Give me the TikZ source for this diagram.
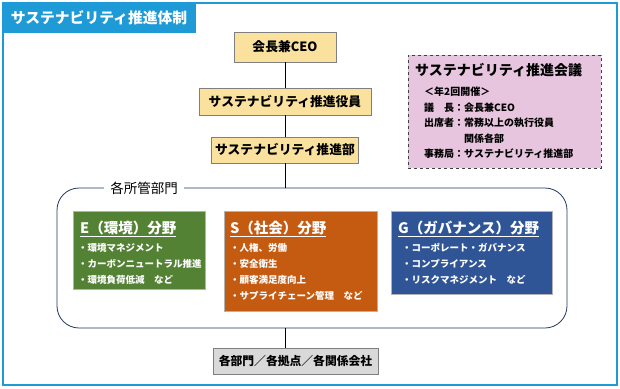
\documentclass[tikz,border=0pt]{standalone}
\usepackage{fontspec}
\setmainfont{Noto Sans CJK JP}
\usepackage{xcolor}
\usetikzlibrary{
  positioning,
  shadows
}
\definecolor{stFrame}{HTML}{1E9AD6}
\definecolor{stHead}{HTML}{FAE29E}
\definecolor{stEdge}{HTML}{7F7F7F}
\definecolor{stMeet}{HTML}{E7C5DF}
\definecolor{stGroup}{HTML}{1F3864}
\definecolor{stEnv}{HTML}{548235}
\definecolor{stSoc}{HTML}{C55A11}
\definecolor{stGov}{HTML}{2F5597}
\definecolor{stBase}{HTML}{D9D9D9}
\tikzset{
  stnode/.style={
    draw=stEdge, inner sep=0pt, align=center
  },
  titletab/.style={fill=stFrame, text=white, inner sep=0pt, minimum width=194, minimum height=31,
    font=\fontsize{14.8}{17}\selectfont\bfseries},
  headbox/.style={stnode, fill=stHead, font=\fontsize{12.8}{15}\selectfont\bfseries},
  meeting/.style={draw=black!75, dashed, line width=0.9pt, fill=stMeet, inner sep=0pt},
  meettitle/.style={inner sep=0pt, font=\fontsize{14}{16}\selectfont\bfseries},
  meetitem/.style={inner sep=0pt, align=left, font=\fontsize{10}{15.5}\selectfont\bfseries},
  groupbox/.style={draw=stGroup, line width=0.8pt, rounded corners=22pt, inner sep=0pt},
  grouplabel/.style={fill=white, inner xsep=6pt, inner ysep=1pt, font=\fontsize{13.5}{15}\selectfont},
  field/.style={draw=white!70!black, line width=0.4pt, inner sep=0pt, anchor=north west},
  fieldtitle/.style={inner sep=0pt, text=white, font=\fontsize{14.5}{16}\selectfont\bfseries},
  fielditem/.style={inner sep=0pt, align=left, text=white, font=\fontsize{9.5}{16}\selectfont\bfseries},
  basebox/.style={stnode, fill=stBase, font=\fontsize{11.8}{14}\selectfont\bfseries,
    drop shadow={shadow xshift=1pt, shadow yshift=-1pt, opacity=0.35}},
  link/.style={line width=0.9pt, black}
}

\begin{document}
\begin{tikzpicture}[x=1pt, y=-1pt, node distance=3mm]
  \useasboundingbox (0,0) rectangle (620,388);
  \draw[stFrame, line width=2pt] (3,3) rectangle (617,385);
  \node[titletab] (tab) at (99,17.5) {サステナビリティ推進体制};

  % chain of command
  \node[headbox, minimum width=102, minimum height=30] (ceo) at (285,47) {会長兼CEO};
  \node[headbox, minimum width=172, minimum height=27] (officer) at (285,101.5) {サステナビリティ推進役員};
  \node[headbox, minimum width=147, minimum height=26] (dept) at (285,150) {サステナビリティ推進部};

  % council
  \node[meeting, minimum width=193, minimum height=113, anchor=north west] (council) at (408,55) {};
  \node[meettitle, below right=8pt and 7pt of council.north west] (counciltitle) {サステナビリティ推進会議};
  \node[meetitem, below right=32pt and 16pt of council.north west] (councilbody)
    {＜年2回開催＞\\議　長：会長兼CEO\\出席者：常務以上の執行役員\\\phantom{出席者：}関係各部\\事務局：サステナビリティ推進部};

  % divisions
  \node[groupbox, minimum width=510, minimum height=140] (group) at (312,258) {};
  \node[grouplabel] (grouptag) at (144,188) {各所管部門};

  \node[field, fill=stEnv, minimum width=132, minimum height=78] (env) at (73,211) {};
  \node[fieldtitle, below right=10pt and 7pt of env.north west] (envtitle) {\underline{E（環境）分野}};
  \node[fielditem, below right=32pt and 5pt of env.north west] (envitems)
    {・環境マネジメント\\・カーボンニュートラル推進\\・環境負荷低減　など};

  \node[field, fill=stSoc, minimum width=153, minimum height=100] (soc) at (224,211) {};
  \node[fieldtitle, below right=10pt and 6pt of soc.north west] (soctitle) {\underline{S（社会）分野}};
  \node[fielditem, below right=32pt and 6pt of soc.north west] (socitems)
    {・人権、労働\\・安全衛生\\・顧客満足度向上\\・サプライチェーン管理　など};

  \node[field, fill=stGov, minimum width=161, minimum height=83] (gov) at (391,211) {};
  \node[fieldtitle, below right=10pt and 7pt of gov.north west] (govtitle) {\underline{G（ガバナンス）分野}};
  \node[fielditem, below right=32pt and 11pt of gov.north west] (govitems)
    {・コーポレート・ガバナンス\\・コンプライアンス\\・リスクマネジメント　など};

  % sites
  \node[basebox, minimum width=165, minimum height=26] (base) at (295.5,361) {各部門／各拠点／各関係会社};

  \draw[link] (ceo) -- (officer);
  \draw[link] (officer) -- (dept);
  \draw[link] (dept) -- (dept |- group.north);
  \draw[link] (group.south -| dept) -- (base.north -| dept);
\end{tikzpicture}
\end{document}
